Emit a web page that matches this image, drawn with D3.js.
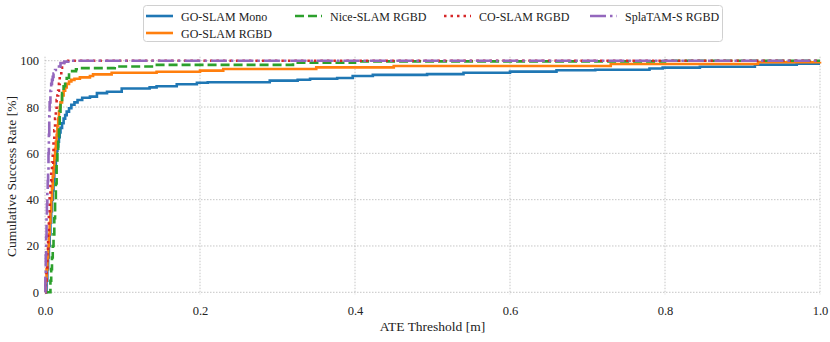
<!DOCTYPE html>
<html lang="en">
    <head>
        <meta charset="utf-8" />
        <title>ATE cumulative success rate</title>
        <style>
            body { margin: 0; background: #fff; }
            svg text { font-family: "Liberation Serif", "Times New Roman", Times, serif; }
            .grid line { stroke: #b8b8b8; stroke-width: 0.8; stroke-dasharray: 1.5,1.5; }
        </style>
        <script src="https://cdn.jsdelivr.net/npm/d3@7"></script>
    </head>
    <body>
        <script>
            // series data: ATE threshold [m] and cumulative success [%]
            var monoX = [0, 0.002, 0.003, 0.004, 0.005, 0.006, 0.007, 0.008, 0.009, 0.01, 0.011, 0.012, 0.013, 0.014, 0.015, 0.016, 0.017, 0.018, 0.019, 0.02, 0.022, 0.024, 0.026, 0.028, 0.031, 0.034, 0.038, 0.042, 0.048, 0.058, 0.067, 0.08, 0.099, 0.135, 0.144, 0.17, 0.196, 0.21, 0.29, 0.326, 0.342, 0.377, 0.397, 0.423, 0.493, 0.54, 0.6, 0.66, 0.71, 0.78, 0.797, 0.845, 0.916, 0.97, 1.0];
            var monoY = [0, 5, 10, 15, 20, 25, 30, 35, 40, 44, 48, 52, 55, 58, 61, 63, 65, 67, 69, 71, 73, 75, 76.5, 78, 79.5, 81, 82, 83, 84, 84.5, 86, 86.6, 88, 88.5, 89, 89.8, 90.5, 90.7, 91.4, 91.8, 92.2, 92.5, 93.4, 93.9, 94.2, 94.8, 95.3, 95.9, 96.1, 96.6, 97.0, 97.4, 98.3, 98.7, 98.7];

            var rgbdX = [0, 0.001, 0.002, 0.003, 0.004, 0.005, 0.006, 0.007, 0.008, 0.009, 0.01, 0.011, 0.012, 0.013, 0.014, 0.015, 0.016, 0.017, 0.018, 0.019, 0.02, 0.022, 0.024, 0.026, 0.028, 0.031, 0.034, 0.038, 0.045, 0.058, 0.062, 0.086, 0.144, 0.2, 0.23, 0.35, 0.45, 0.73, 0.92, 1.0];
            var rgbdY = [0, 5, 10, 15, 20, 25, 30, 35, 40, 45, 50, 54, 58, 62, 65, 68, 72, 75, 78, 80, 82, 85, 87, 88.5, 90, 91, 91.7, 92.2, 92.8, 93.4, 94.1, 94.8, 95.2, 95.7, 96.4, 97.1, 97.7, 98.6, 99.3, 99.5];

            var niceX = [0, 0.006, 0.007, 0.008, 0.009, 0.01, 0.011, 0.012, 0.013, 0.014, 0.015, 0.016, 0.017, 0.018, 0.019, 0.02, 0.022, 0.024, 0.026, 0.028, 0.031, 0.035, 0.04, 0.045, 0.09, 0.14, 0.32, 0.4, 0.8, 1.0];
            var niceY = [0, 0, 5, 10, 15, 20, 25, 32, 40, 47, 55, 62, 67, 72, 78, 82, 86, 89, 91, 92.5, 94, 95.5, 96.3, 96.8, 97.5, 98.2, 99.1, 99.7, 100, 100];

            var coX = [0, 0.001, 0.002, 0.003, 0.004, 0.005, 0.006, 0.007, 0.008, 0.009, 0.01, 0.011, 0.012, 0.013, 0.014, 0.015, 0.016, 0.017, 0.018, 0.019, 0.021, 0.024, 0.028, 1.0];
            var coY = [0, 5, 10, 18, 26, 34, 42, 48, 52, 56, 60, 65, 70, 75, 79, 83, 85, 87, 90, 94, 97, 99, 100, 100];

            var splaX = [0, 0.0005, 0.001, 0.0015, 0.002, 0.0025, 0.003, 0.0035, 0.004, 0.0045, 0.005, 0.0055, 0.006, 0.007, 0.008, 0.009, 0.01, 0.011, 0.013, 0.016, 0.02, 0.025, 0.03, 1.0];
            var splaY = [0, 8, 16, 24, 32, 38, 44, 48, 52, 60, 68, 76, 82, 87, 90, 91.7, 93, 94.5, 96, 97.5, 99, 99.6, 100, 100];

            var names = ['GO-SLAM Mono', 'GO-SLAM RGBD', 'Nice-SLAM RGBD', 'CO-SLAM RGBD', 'SplaTAM-S RGBD'];
            var colors = ['#1f77b4', '#ff7f0e', '#2ca02c', '#d62728', '#9467bd'];
            var dashes = [null, null, '9,4', '2.5,4', '16,4,2.5,4'];
            var xTicks = [0, 0.2, 0.4, 0.6, 0.8, 1.0];
            var yTicks = [0, 20, 40, 60, 80, 100];

            var seriesX = [monoX, rgbdX, niceX, coX, splaX];
            var seriesY = [monoY, rgbdY, niceY, coY, splaY];

            var width = 830, height = 342;
            var plotL = 45, plotR = 820, plotT = 60.7, plotB = 292.3;

            var x = d3.scaleLinear().domain([0, 1]).range([plotL, plotR]);
            var y = d3.scaleLinear().domain([0, 100]).range([plotB, plotT]);

            var svg = d3.select('body').append('svg')
                .attr('width', width)
                .attr('height', height);

            // grid
            var grid = svg.append('g').attr('class', 'grid');
            grid.selectAll('.gx').data(xTicks).enter().append('line')
                .attr('x1', function(d) { return x(d); })
                .attr('x2', function(d) { return x(d); })
                .attr('y1', plotT - 4).attr('y2', plotB + 2);
            grid.selectAll('.gy').data(yTicks).enter().append('line')
                .attr('x1', plotL).attr('x2', plotR)
                .attr('y1', function(d) { return y(d); })
                .attr('y2', function(d) { return y(d); });

            // axes: labels only, no lines
            svg.append('g')
                .attr('transform', 'translate(0,' + (plotB + 4) + ')')
                .call(d3.axisBottom(x).tickValues(xTicks).tickFormat(d3.format('.1f')).tickSize(0).tickPadding(10));
            svg.append('g')
                .attr('transform', 'translate(' + (plotL - 4) + ',0)')
                .call(d3.axisLeft(y).tickValues(yTicks).tickSize(0).tickPadding(2));
            svg.selectAll('.domain').remove();
            svg.selectAll('.tick text')
                .attr('font-size', 12.5)
                .attr('fill', '#222');
            svg.selectAll('g').attr('font-family', null);

            svg.append('text')
                .attr('x', (plotL + plotR) / 2)
                .attr('y', 331)
                .attr('text-anchor', 'middle')
                .attr('font-size', 13.5)
                .attr('fill', '#222')
                .text('ATE Threshold [m]');
            svg.append('text')
                .attr('transform', 'translate(16,' + ((plotT + plotB) / 2) + ') rotate(-90)')
                .attr('text-anchor', 'middle')
                .attr('font-size', 13.5)
                .attr('fill', '#222')
                .text('Cumulative Success Rate [%]');

            // curves
            var line = d3.line()
                .x(function(d) { return x(d[0]); })
                .y(function(d) { return y(d[1]); })
                .curve(d3.curveStepAfter);

            seriesX.forEach(function(xs, i) {
                var pts = xs.map(function(v, j) { return [v, seriesY[i][j]]; });
                svg.append('path')
                    .datum(pts)
                    .attr('d', line)
                    .attr('fill', 'none')
                    .attr('stroke', colors[i])
                    .attr('stroke-width', 2.6)
                    .attr('stroke-dasharray', dashes[i]);
            });

            // legend
            var lg = svg.append('g');
            lg.append('rect')
                .attr('x', 143.5).attr('y', 5.5)
                .attr('width', 579).attr('height', 36)
                .attr('rx', 3)
                .attr('fill', '#fff')
                .attr('stroke', '#d0d0d0')
                .attr('stroke-width', 1);
            var cols = [146, 146, 295, 444, 590];
            var rows = [16, 33, 16, 16, 16];
            names.forEach(function(n, i) {
                lg.append('line')
                    .attr('x1', cols[i]).attr('x2', cols[i] + 27)
                    .attr('y1', rows[i]).attr('y2', rows[i])
                    .attr('stroke', colors[i])
                    .attr('stroke-width', 2.6)
                    .attr('stroke-dasharray', dashes[i]);
                lg.append('text')
                    .attr('x', cols[i] + 35)
                    .attr('y', rows[i] + 4.5)
                    .attr('font-size', 12)
                    .attr('fill', '#222')
                    .text(n);
            });
        </script>
    </body>
</html>
